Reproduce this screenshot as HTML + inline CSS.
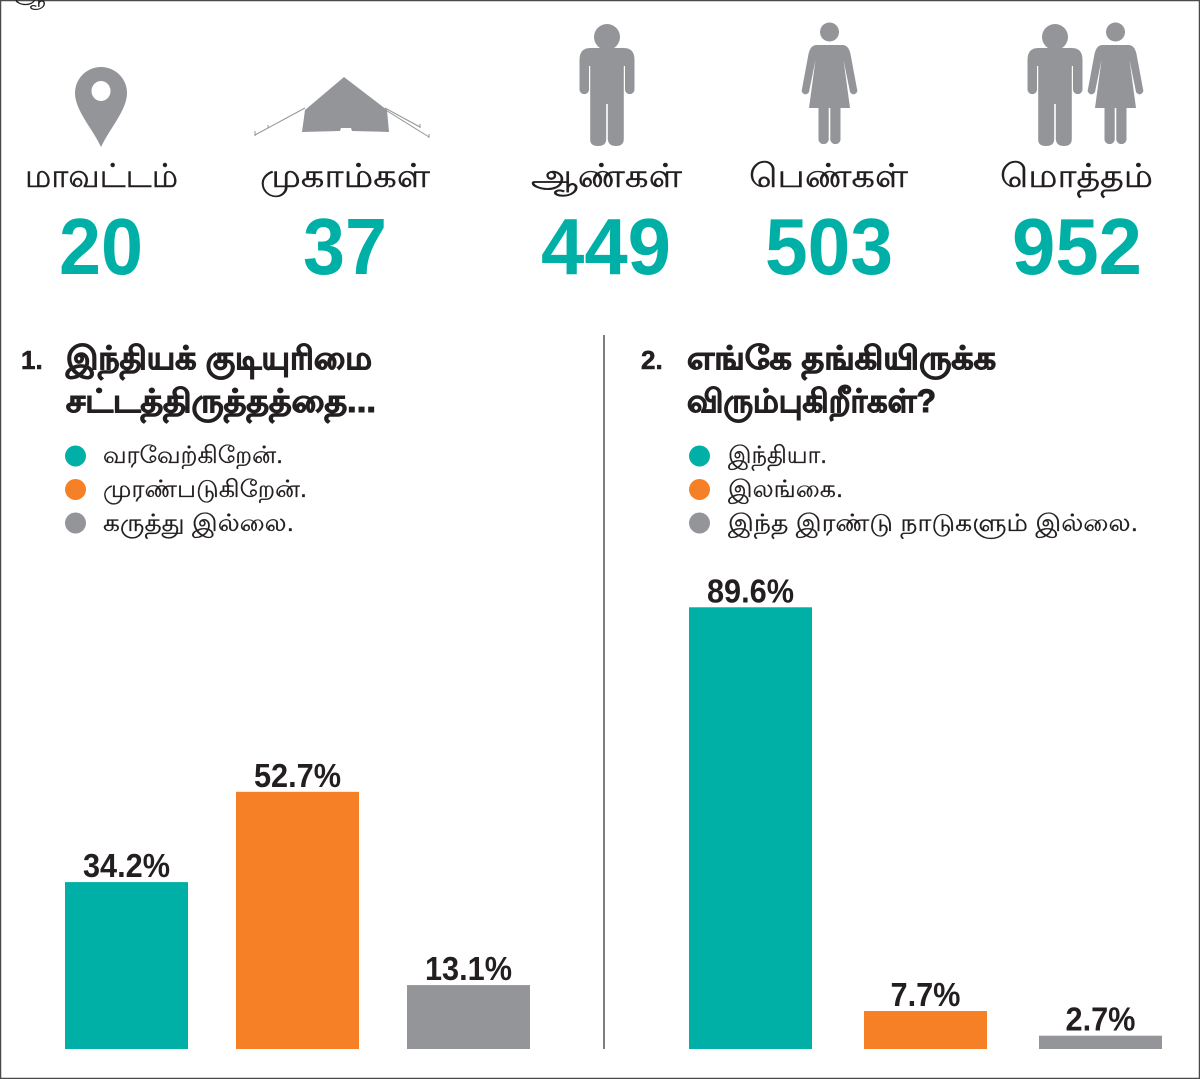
<!DOCTYPE html>
<html lang="ta">
<head>
<meta charset="utf-8">
<title>Survey infographic</title>
<style>
html,body{margin:0;padding:0;background:#fff;}
svg{display:block;}
text{font-family:"Liberation Sans","DejaVu Sans","Noto Sans CJK SC",sans-serif;}
.big{font-size:80px;font-weight:700;fill:#00b0a6;}
.lab{font-size:33px;fill:#231f20;stroke:#231f20;stroke-width:.45px;}
.head{font-size:32px;font-weight:700;fill:#231f20;stroke:#231f20;stroke-width:1px;}
.num{font-size:26px;font-weight:700;fill:#231f20;stroke:#231f20;stroke-width:.6px;}
.leg{font-size:24px;fill:#231f20;stroke:#231f20;stroke-width:.3px;}
.val{font-size:33px;font-weight:700;fill:#231f20;text-anchor:middle;}
</style>
</head>
<body>
<svg id="page" xmlns="http://www.w3.org/2000/svg" width="1200" height="1079" viewBox="0 0 1200 1079">
<defs>
<g id="man-shape">
<circle cx="0" cy="37" r="13"/>
<path d="M-17 48H17Q27.500 48 27.500 60V90A4.800 4.800 0 0 1 18 90V66H16.800V139Q16.800 146 9 146T.8 139V104H-.8V139Q-.8 146 -9 146T-16.800 139V66H-18V90A4.800 4.800 0 0 1 -27.500 90V60Q-27.500 48 -17 48Z"/>
</g>
<g id="woman-shape">
<circle cx="0" cy="32" r="9.500"/>
<path d="M-13 45H13Q19 45 21 54L27.500 89A3.500 3.500 0 0 1 20.500 92L14 60L20.500 108H11V140A5.200 5.200 0 0 1 .8 140V108H-.8V140A5.200 5.200 0 0 1 -11 140V108H-20.500L-14 60L-20.500 92A3.500 3.500 0 0 1 -27.500 89L-21 54Q-19 45 -13 45Z"/>
</g>
</defs>

<rect x="0" y="0" width="1200" height="1079" fill="#fff"/>
<rect x=".5" y=".5" width="1199" height="1078" fill="none" stroke="#4a4a4a" stroke-width="1.500"/>
<text x="15" y="3" font-size="24" fill="#231f20">ஆ</text>

<path d="M75 93A26 26 0 0 1 127 93C127 110 110 128 101 147C92 128 75 110 75 93ZM101 81A9.500 10 0 1 0 101.010 81Z" fill="#939598" fill-rule="evenodd"/>

<g>
<path d="M344 77L387 110L389 132L352 131L351 128H341L340 131L302 132L305 110Z" fill="#939598"/>
<path d="M305 108L255 135M268 125V128M384 109L429 137M385 108L420 127M420 124V128M429 134V138M255 131V136" stroke="#939598" stroke-width="1" fill="none"/>
</g>

<use href="#man-shape" x="607" fill="#939598"/>
<use href="#woman-shape" x="829.500" fill="#939598"/>
<use href="#man-shape" x="1055" fill="#939598"/>
<use href="#woman-shape" x="1115.500" fill="#939598"/>

<text class="lab" x="25" y="187" textLength="153" lengthAdjust="spacingAndGlyphs">மாவட்டம்</text>
<text class="lab" x="260" y="187" textLength="170" lengthAdjust="spacingAndGlyphs">முகாம்கள்</text>
<text class="lab" x="531" y="187" textLength="151" lengthAdjust="spacingAndGlyphs">ஆண்கள்</text>
<text class="lab" x="749" y="187" textLength="159" lengthAdjust="spacingAndGlyphs">பெண்கள்</text>
<text class="lab" x="1000" y="187" textLength="153" lengthAdjust="spacingAndGlyphs">மொத்தம்</text>

<text class="big" x="59" y="274" textLength="84" lengthAdjust="spacingAndGlyphs">20</text>
<text class="big" x="303" y="274" textLength="84" lengthAdjust="spacingAndGlyphs">37</text>
<text class="big" x="541" y="274" textLength="130" lengthAdjust="spacingAndGlyphs">449</text>
<text class="big" x="765" y="274" textLength="128" lengthAdjust="spacingAndGlyphs">503</text>
<text class="big" x="1012" y="274" textLength="130" lengthAdjust="spacingAndGlyphs">952</text>

<line x1="604" y1="335" x2="604" y2="1049" stroke="#555" stroke-width="1.500"/>

<text class="num" x="21" y="369">1.</text>
<text class="head" x="66" y="369" textLength="306" lengthAdjust="spacingAndGlyphs">இந்தியக் குடியுரிமை</text>
<text class="head" x="66" y="412" textLength="310" lengthAdjust="spacingAndGlyphs">சட்டத்திருத்தத்தை...</text>
<text class="num" x="641" y="369">2.</text>
<text class="head" x="687" y="369" textLength="309" lengthAdjust="spacingAndGlyphs">எங்கே தங்கியிருக்க</text>
<text class="head" x="687" y="412" textLength="249" lengthAdjust="spacingAndGlyphs">விரும்புகிறீர்கள்?</text>

<g>
<circle cx="75.500" cy="456" r="10.500" fill="#00b0a6"/>
<text class="leg" x="103" y="463" textLength="180" lengthAdjust="spacingAndGlyphs">வரவேற்கிறேன்.</text>
<circle cx="75.500" cy="489.500" r="10.500" fill="#f58025"/>
<text class="leg" x="103" y="497" textLength="204" lengthAdjust="spacingAndGlyphs">முரண்படுகிறேன்.</text>
<circle cx="75.500" cy="523" r="10.500" fill="#939598"/>
<text class="leg" x="103" y="531" textLength="191" lengthAdjust="spacingAndGlyphs">கருத்து இல்லை.</text>
</g>
<g>
<circle cx="699.500" cy="456" r="10.500" fill="#00b0a6"/>
<text class="leg" x="728" y="463" textLength="99" lengthAdjust="spacingAndGlyphs">இந்தியா.</text>
<circle cx="699.500" cy="489.500" r="10.500" fill="#f58025"/>
<text class="leg" x="728" y="497" textLength="115" lengthAdjust="spacingAndGlyphs">இலங்கை.</text>
<circle cx="699.500" cy="523" r="10.500" fill="#939598"/>
<text class="leg" x="728" y="531" textLength="410" lengthAdjust="spacingAndGlyphs">இந்த இரண்டு நாடுகளும் இல்லை.</text>
</g>

<g id="chart-1"></g>
<g id="chart-2"></g>
</svg>

<script>
const categories1 = ['welcome', 'oppose', 'no-opinion'];
const values1 = [34.2, 52.7, 13.1];
const labels1 = ['34.2%', '52.7%', '13.1%'];
const categories2 = ['india', 'sri-lanka', 'neither'];
const values2 = [89.6, 7.7, 2.7];
const labels2 = ['89.6%', '7.7%', '2.7%'];
const barColors = ['#00b0a6', '#f58025', '#939598'];

const svgNS = 'http://www.w3.org/2000/svg';
const baseline = 1049;
const barWidth = 123;

function drawChart(groupId, prefix, cats, vals, labs, left, step, pxPerUnit) {
  const group = document.getElementById(groupId);
  const xScale = function (i) { return left + i * step; };
  const yScale = function (v) { return baseline - v * pxPerUnit; };
  cats.forEach(function (cat, i) {
    const rect = document.createElementNS(svgNS, 'rect');
    rect.setAttribute('x', xScale(i));
    rect.setAttribute('y', yScale(vals[i]));
    rect.setAttribute('width', barWidth);
    rect.setAttribute('height', baseline - yScale(vals[i]));
    rect.setAttribute('fill', barColors[i]);
    
    
    group.appendChild(rect);
    const text = document.createElementNS(svgNS, 'text');
    text.setAttribute('class', 'val');
    text.setAttribute('x', xScale(i) + barWidth / 2);
    text.setAttribute('y', yScale(vals[i]) - 5);
    
    
    text.textContent = labs[i];
    group.appendChild(text);
    text.setAttribute('textLength', text.getComputedTextLength() * 0.93);
    text.setAttribute('lengthAdjust', 'spacingAndGlyphs');
  });
}

drawChart('chart-1', 'chart-1', categories1, values1, labels1, 65, 171, 4.88);
drawChart('chart-2', 'chart-2', categories2, values2, labels2, 689, 175, 4.93);
</script>
</body>
</html>
